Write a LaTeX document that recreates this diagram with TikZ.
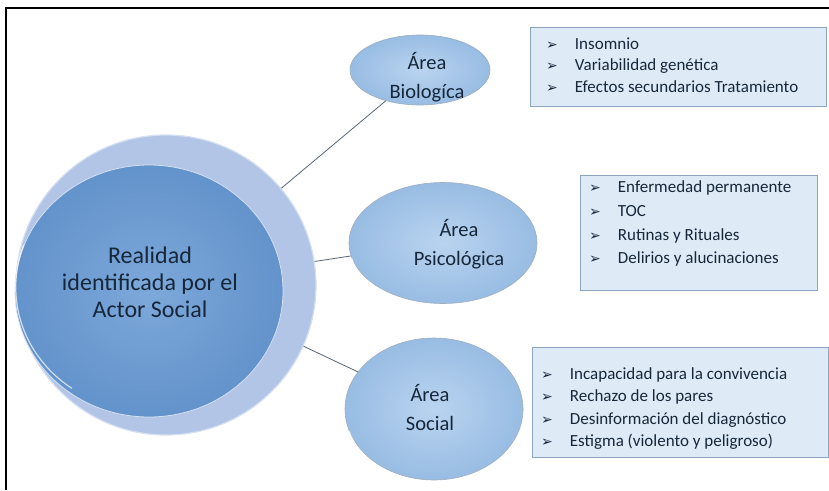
\documentclass[tikz,border=0pt]{standalone}
\usepackage{fontspec}
\setmainfont{Carlito}
\newfontfamily\symfont{DejaVu Sans}
\usetikzlibrary{shapes.geometric}
\definecolor{ringc}{HTML}{B3C5E6}
\definecolor{ringedge}{HTML}{D5E0F2}
\definecolor{innerA}{HTML}{7DA8DA}
\definecolor{innerB}{HTML}{6393CB}
\definecolor{ellA}{HTML}{BAD4F0}
\definecolor{ellB}{HTML}{98BCE3}
\definecolor{ellEdge}{HTML}{A0AEC0}
\definecolor{boxfill}{HTML}{DEEBF7}
\definecolor{boxedge}{HTML}{8CA6BF}
\definecolor{txt}{HTML}{17273A}
\definecolor{conn}{HTML}{5A6675}
\tikzset{
  area/.style={ellipse, inner sep=0pt, shade, inner color=ellA, outer color=ellB,
    draw=ellEdge, line width=0.6pt},
  areatxt/.style={align=center, text=txt, inner sep=0pt, font=\fontsize{20.5}{29}\selectfont},
  listbox/.style={rectangle, inner sep=0pt, fill=boxfill, draw=boxedge, line width=0.8pt},
  listtxt/.style={anchor=west, inner sep=0pt, align=left, text=txt},
  connector/.style={draw=conn, line width=0.8pt},
  gloss/.style={white, line width=1.2pt, opacity=0.7, line cap=round}
}
\newcommand{\bul}{{\symfont\fontsize{14}{14}\selectfont ➢}}
\begin{document}
\begin{tikzpicture}[x=1pt,y=-1pt]
\useasboundingbox (0,0) rectangle (829,490);
\fill[white] (0,0) rectangle (829,490);
% frame
\draw[line width=2pt, black] (6,490) -- (6,8) -- (829,8);

% central element
\node[circle, minimum size=300pt, inner sep=0pt, fill=ringc, draw=ringedge, line width=1.2pt] (c) at (166,285) {};
\node[ellipse, minimum width=268pt, minimum height=252pt, inner sep=0pt, shade, inner color=innerA, outer color=innerB, draw=ringedge, line width=0.8pt] (ci) at (149,291) {};
\draw[gloss] (ci.160) arc[x radius=131pt, y radius=123pt, start angle=160, end angle=235];
\node[align=center, text=txt, font=\fontsize{24}{27}\selectfont] (ct) at (150,282) {Realidad\\identificada por el\\Actor Social};

% areas
\node[area, minimum width=140pt, minimum height=70pt] (b) at (420,70) {};
\node[area, minimum width=188pt, minimum height=121pt] (p) at (443,243) {};
\node[area, minimum width=178pt, minimum height=142pt] (s) at (434,409) {};
\draw[gloss] (b.190) arc[x radius=68pt, y radius=33pt, start angle=190, end angle=240];
\draw[gloss] (p.190) arc[x radius=92pt, y radius=58pt, start angle=190, end angle=250];
\draw[gloss] (s.195) arc[x radius=87pt, y radius=69pt, start angle=195, end angle=255];
\node[areatxt] (bt) at (427,77) {Área\\Biologíca};
\node[areatxt] (pt) at (459,244) {Área\\Psicológica};
\node[areatxt] (st) at (430,408) {Área\\Social};

% connectors
\draw[connector] (c.40) -- (b.222);
\draw[connector] (c.9) -- (p.188);
\draw[connector] (c.-24) -- (s.154);

% boxes
\node[listbox, minimum width=296pt, minimum height=79pt] (bb) at (678,66.5) {};
\node[listbox, minimum width=237pt, minimum height=115pt] (pb) at (698.5,232.5) {};
\node[listbox, minimum width=296pt, minimum height=110pt] (sb) at (680,402) {};

\node[listtxt, font=\fontsize{17}{21.5}\selectfont] (bl) at (546,66.5)
  {\begin{tabular}{@{}l@{\hspace{17pt}}l@{}}\bul & Insomnio\\ \bul & Variabilidad genética\\ \bul & Efectos secundarios Tratamiento\end{tabular}};
\node[listtxt, font=\fontsize{17}{23.7}\selectfont] (pl) at (589,223.7)
  {\begin{tabular}{@{}l@{\hspace{17pt}}l@{}}\bul & Enfermedad permanente\\ \bul & TOC\\ \bul & Rutinas y Rituales\\ \bul & Delirios y alucinaciones\end{tabular}};
\node[listtxt, font=\fontsize{17}{22.3}\selectfont] (sl) at (541,408.5)
  {\begin{tabular}{@{}l@{\hspace{17pt}}l@{}}\bul & Incapacidad para la convivencia\\ \bul & Rechazo de los pares\\ \bul & Desinformación del diagnóstico\\ \bul & Estigma (violento y peligroso)\end{tabular}};
\end{tikzpicture}
\end{document}
